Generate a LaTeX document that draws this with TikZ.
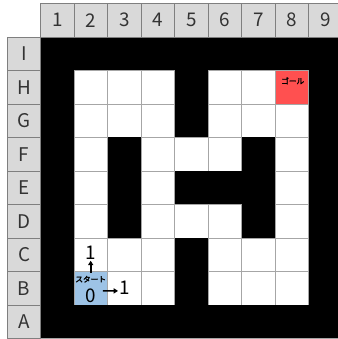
\documentclass[tikz,border=0pt]{standalone}
\usepackage{fontspec}
\setmainfont{Noto Sans CJK JP}
\newfontfamily\kanafont{Noto Sans CJK JP}[FakeBold=2.5]
\usetikzlibrary{arrows.meta}
\definecolor{hdr}{HTML}{D9D9D9}
\definecolor{hline}{HTML}{7F7F7F}
\definecolor{gline}{HTML}{A6A6A6}
\definecolor{startc}{HTML}{9DC3E6}
\definecolor{goalc}{HTML}{FF5050}
\definecolor{txt}{HTML}{333333}
\begin{document}
\begin{tikzpicture}[x=1cm,y=1cm,
  hcell/.style={draw=hline,fill=hdr,line width=0.6pt},
  wcell/.style={draw=gline,fill=white,line width=0.6pt},
  bcell/.style={fill=black},
  htext/.style={text=txt,font=\fontsize{16}{16}\selectfont,inner sep=0pt},
  numtext/.style={text=black,font=\fontsize{16}{16}\selectfont,inner sep=0.05cm},
  small/.style={text=black,font=\kanafont\fontsize{6.5}{6.5}\selectfont,inner sep=0pt},
  arr/.style={-{Triangle[length=0.13cm,width=0.15cm]},line width=1.4pt}]
\useasboundingbox (-0.217,-0.015) rectangle (9.872,10.104);
\clip (-0.217,-0.015) rectangle (9.872,10.104);
% maze white cells
\foreach \c in {1,...,9}{
  \foreach \r in {0,...,8}{
    \path[wcell] (\c,\r) rectangle ++(1,1);
  }
}
% start and goal
\path[draw=gline,fill=startc,line width=0.6pt] (2,1) rectangle (3,2);
\path[draw=gline,fill=goalc,line width=0.6pt] (8,7) rectangle (9,8);
% black cells
\foreach \c in {1,...,9}{
  \path[bcell] (\c,0) rectangle ++(1,1);
  \path[bcell] (\c,8) rectangle ++(1,1);
}
\foreach \r in {0,...,8}{
  \path[bcell] (1,\r) rectangle ++(1,1);
  \path[bcell] (9,\r) rectangle ++(1,1);
}
\foreach \c/\r in {5/7,5/6,3/5,3/4,3/3,7/5,7/4,7/3,5/4,6/4,5/2,5/1}{
  \path[bcell] (\c,\r) rectangle ++(1,1);
}
% headers
\foreach \c in {1,...,9}{
  \path[hcell] (\c,9) rectangle ++(1,1);
  \node[htext] (col\c) at (\c+0.5,9.5) {\c};
}
\foreach \t [count=\i from 0] in {A,B,C,D,E,F,G,H,I}{
  \path[hcell] (0,\i) rectangle ++(1,1);
  \node[htext] (row\t) at (0.5,\i+0.5) {\t};
}
% labels
\node[small] (goal) at (8.52,7.69) {ゴール};
\node[small] (start) at (2.49,1.77) {スタート};
\node[numtext] (zero) at (2.49,1.28) {0};
\node[numtext] (oneR) at (3.50,1.50) {1};
\node[numtext] (oneU) at (2.49,2.56) {1};
\draw[arr] ([yshift=0.09cm]start.north) -- ([yshift=0.02cm]oneU.south);
\draw[arr] ([xshift=0.15cm,yshift=0.14cm]zero.east) -- ([xshift=0.02cm,yshift=-0.08cm]oneR.west);
\end{tikzpicture}
\end{document}
